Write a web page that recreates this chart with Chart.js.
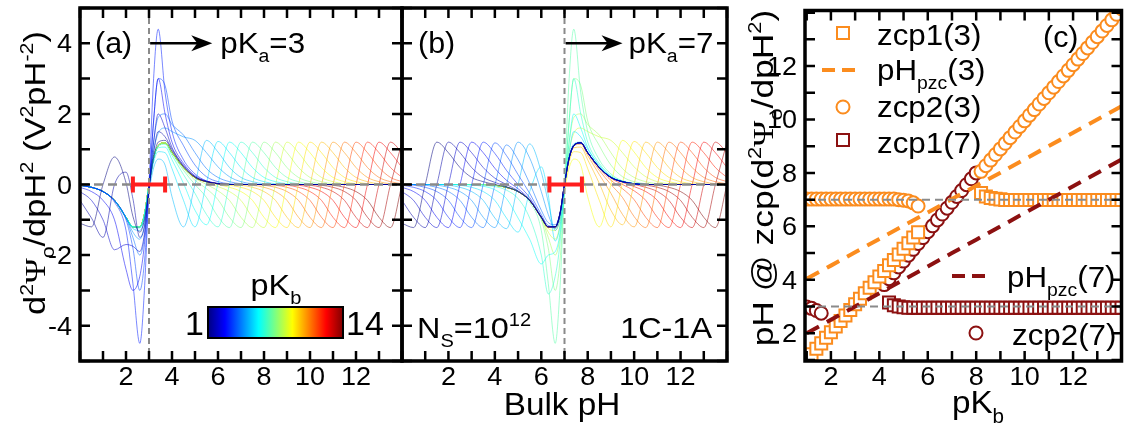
<!DOCTYPE html>
<html>
<head>
<meta charset="utf-8">
<script src="https://cdn.jsdelivr.net/npm/chart.js@4.4.1/dist/chart.umd.min.js"></script>
<style>
  html, body { margin: 0; padding: 0; background: #fff; overflow: hidden; }
  #wrap { position: relative; width: 1128px; height: 426px; overflow: hidden; }
  canvas { position: absolute; left: 0; top: 0; }
</style>
</head>
<body>
<div id="wrap">
  <canvas id="ca" width="1132" height="426"></canvas>
  <canvas id="cb" width="1132" height="426"></canvas>
  <canvas id="cc" width="1132" height="426"></canvas>
</div>
<script>
// ---- panels (a) and (b): d2Psi/dpH2 vs bulk pH, one curve per pKb ----
const pKbCurves = [1,1.5,2,2.5,3,3.5,4,4.5,5,5.5,6,6.5,7,7.5,8,8.5,9,9.5,10,10.5,11,11.5,12,12.5,13,13.5,14];

const pHgridA = [0,0.5,1,1.5,2,2.3,2.6,2.8,3,3.2,3.4,3.7,4,4.5,5,5.5,6,6.5,7,7.5,8,8.5,9,9.5,10,10.5,11,11.5,12,12.5,13,13.5,14];
const pHgridB = [0,0.5,1,1.5,2,2.5,3,3.5,4,4.5,5,5.5,6,6.3,6.6,6.8,7,7.2,7.4,7.7,8,8.5,9,9.5,10,10.5,11,11.5,12,12.5,13,13.5,14];

// pKa = 3
const curvesA = [
  [-1.1,-1.2,0,0.78,0.05,-0.9,-1.35,-1.0,-0.1,0.75,1.2,1.25,0.95,0.5,0.2,0.08,0.02,0,0,0,0,0,0,0,0,0,0,0,0,0,0,0,0],
  [-0.45,-0.95,-1.5,0,0.35,-0.4,-1.5,-1.2,-0.1,0.9,1.5,1.35,1.0,0.52,0.22,0.08,0.02,0,0,0,0,0,0,0,0,0,0,0,0,0,0,0,0],
  [-0.2,-0.45,-1.0,-1.85,-1.7,-1.75,-1.9,-1.4,-0.1,1.2,2.0,1.6,1.05,0.55,0.22,0.08,0.02,0,0,0,0,0,0,0,0,0,0,0,0,0,0,0,0],
  [-0.08,-0.2,-0.45,-1.0,-2.4,-3.0,-2.6,-1.7,-0.1,1.8,3.0,2.0,1.2,0.6,0.25,0.1,0.03,0,0,0,0,0,0,0,0,0,0,0,0,0,0,0,0],
  [-0.03,-0.08,-0.2,-0.5,-1.3,-2.8,-4.5,-3.0,0,3.0,4.4,2.6,1.5,0.7,0.3,0.1,0.03,0,0,0,0,0,0,0,0,0,0,0,0,0,0,0,0],
  [-0.02,-0.08,-0.2,-0.45,-1.0,-1.8,-3.0,-2.2,-0.2,1.8,3.0,2.8,1.8,1.1,0.55,0.22,0.08,0.02,0,0,0,0,0,0,0,0,0,0,0,0,0,0,0],
  [-0.02,-0.08,-0.2,-0.45,-0.95,-1.5,-2.0,-1.5,-0.1,1.2,1.9,2.0,1.7,1.4,0.9,0.45,0.2,0.08,0.02,0,0,0,0,0,0,0,0,0,0,0,0,0,0],
  [-0.02,-0.08,-0.2,-0.45,-0.93,-1.35,-1.55,-1.15,-0.05,0.95,1.45,1.6,1.5,1.35,1.25,0.9,0.5,0.22,0.08,0.02,0,0,0,0,0,0,0,0,0,0,0,0,0],
  [-0.02,-0.08,-0.2,-0.45,-0.95,-1.25,-1.3,-1.0,-0.2,0.47,0.72,0.55,-0.35,-1.2,0,1.25,0.92,0.48,0.2,0.08,0.02,0,0,0,0,0,0,0,0,0,0,0,0],
  [-0.02,-0.08,-0.2,-0.45,-0.93,-1.2,-1.23,-0.9,-0.08,0.63,0.93,0.9,0.45,-0.45,-1.2,0.05,1.22,0.9,0.48,0.2,0.08,0.02,0,0,0,0,0,0,0,0,0,0,0],
  [-0.02,-0.08,-0.2,-0.45,-0.93,-1.2,-1.2,-0.85,-0.02,0.71,1.04,1.06,0.7,0.03,-0.73,-1.14,0.02,1.2,0.9,0.48,0.2,0.08,0.02,0,0,0,0,0,0,0,0,0,0],
  [-0.02,-0.08,-0.2,-0.45,-0.93,-1.2,-1.2,-0.85,0,0.74,1.09,1.14,0.82,0.28,-0.25,-0.85,-1.2,0,1.2,0.9,0.48,0.2,0.08,0.02,0,0,0,0,0,0,0,0,0],
  [-0.02,-0.08,-0.2,-0.45,-0.93,-1.2,-1.2,-0.85,0,0.75,1.1,1.18,0.88,0.4,0,-0.37,-0.91,-1.22,0,1.2,0.9,0.48,0.2,0.08,0.02,0,0,0,0,0,0,0,0],
  [-0.02,-0.08,-0.2,-0.45,-0.93,-1.2,-1.2,-0.85,0,0.75,1.1,1.18,0.9,0.46,0.12,-0.12,-0.43,-0.93,-1.22,0,1.2,0.9,0.48,0.2,0.08,0.02,0,0,0,0,0,0,0],
  [-0.02,-0.08,-0.2,-0.45,-0.93,-1.2,-1.2,-0.85,0,0.75,1.1,1.18,0.9,0.48,0.18,0,-0.18,-0.45,-0.93,-1.22,0,1.2,0.9,0.48,0.2,0.08,0.02,0,0,0,0,0,0],
  [-0.02,-0.08,-0.2,-0.45,-0.93,-1.2,-1.2,-0.85,0,0.75,1.1,1.18,0.9,0.48,0.2,0.06,-0.06,-0.2,-0.45,-0.93,-1.22,0,1.2,0.9,0.48,0.2,0.08,0.02,0,0,0,0,0],
  [-0.02,-0.08,-0.2,-0.45,-0.93,-1.2,-1.2,-0.85,0,0.75,1.1,1.18,0.9,0.48,0.2,0.08,0,-0.08,-0.2,-0.45,-0.93,-1.22,0,1.2,0.9,0.48,0.2,0.08,0.02,0,0,0,0],
  [-0.02,-0.08,-0.2,-0.45,-0.93,-1.2,-1.2,-0.85,0,0.75,1.1,1.18,0.9,0.48,0.2,0.08,0.02,-0.02,-0.08,-0.2,-0.45,-0.93,-1.22,0,1.2,0.9,0.48,0.2,0.08,0.02,0,0,0],
  [-0.02,-0.08,-0.2,-0.45,-0.93,-1.2,-1.2,-0.85,0,0.75,1.1,1.18,0.9,0.48,0.2,0.08,0.02,0,-0.02,-0.08,-0.2,-0.45,-0.93,-1.22,0,1.2,0.9,0.48,0.2,0.08,0.02,0,0],
  [-0.02,-0.08,-0.2,-0.45,-0.93,-1.2,-1.2,-0.85,0,0.75,1.1,1.18,0.9,0.48,0.2,0.08,0.02,0,0,-0.02,-0.08,-0.2,-0.45,-0.93,-1.22,0,1.2,0.9,0.48,0.2,0.08,0.02,0],
  [-0.02,-0.08,-0.2,-0.45,-0.93,-1.2,-1.2,-0.85,0,0.75,1.1,1.18,0.9,0.48,0.2,0.08,0.02,0,0,0,-0.02,-0.08,-0.2,-0.45,-0.93,-1.22,0,1.2,0.9,0.48,0.2,0.08,0.02],
  [-0.02,-0.08,-0.2,-0.45,-0.93,-1.2,-1.2,-0.85,0,0.75,1.1,1.18,0.9,0.48,0.2,0.08,0.02,0,0,0,0,-0.02,-0.08,-0.2,-0.45,-0.93,-1.22,0,1.2,0.9,0.48,0.2,0.08],
  [-0.02,-0.08,-0.2,-0.45,-0.93,-1.2,-1.2,-0.85,0,0.75,1.1,1.18,0.9,0.48,0.2,0.08,0.02,0,0,0,0,0,-0.02,-0.08,-0.2,-0.45,-0.93,-1.22,0,1.2,0.9,0.48,0.2],
  [-0.02,-0.08,-0.2,-0.45,-0.93,-1.2,-1.2,-0.85,0,0.75,1.1,1.18,0.9,0.48,0.2,0.08,0.02,0,0,0,0,0,0,-0.02,-0.08,-0.2,-0.45,-0.93,-1.22,0,1.2,0.9,0.48],
  [-0.02,-0.08,-0.2,-0.45,-0.93,-1.2,-1.2,-0.85,0,0.75,1.1,1.18,0.9,0.48,0.2,0.08,0.02,0,0,0,0,0,0,0,-0.02,-0.08,-0.2,-0.45,-0.93,-1.22,0,1.2,0.9],
  [-0.02,-0.08,-0.2,-0.45,-0.93,-1.2,-1.2,-0.85,0,0.75,1.1,1.18,0.9,0.48,0.2,0.08,0.02,0,0,0,0,0,0,0,0,-0.02,-0.08,-0.2,-0.45,-0.93,-1.22,0,1.2],
  [-0.02,-0.08,-0.2,-0.45,-0.93,-1.2,-1.2,-0.85,0,0.75,1.1,1.18,0.9,0.48,0.2,0.08,0.02,0,0,0,0,0,0,0,0,0,-0.02,-0.08,-0.2,-0.45,-0.93,-1.22,0]
];

// pKa = 7
const curvesB = [
  [-1.1,-1.22,0,1.2,0.9,0.48,0.2,0.08,0,-0.08,-0.2,-0.45,-0.93,-1.2,-1.2,-0.85,0,0.75,1.1,1.18,0.9,0.48,0.2,0.08,0.02,0,0,0,0,0,0,0,0],
  [-0.45,-0.93,-1.22,0,1.2,0.9,0.48,0.2,0.06,-0.06,-0.2,-0.45,-0.93,-1.2,-1.2,-0.85,0,0.75,1.1,1.18,0.9,0.48,0.2,0.08,0.02,0,0,0,0,0,0,0,0],
  [-0.2,-0.45,-0.93,-1.22,0,1.2,0.9,0.48,0.18,0,-0.18,-0.45,-0.93,-1.2,-1.2,-0.85,0,0.75,1.1,1.18,0.9,0.48,0.2,0.08,0.02,0,0,0,0,0,0,0,0],
  [-0.08,-0.2,-0.45,-0.93,-1.22,0,1.2,0.9,0.46,0.12,-0.12,-0.43,-0.93,-1.2,-1.2,-0.85,0,0.75,1.1,1.18,0.9,0.48,0.2,0.08,0.02,0,0,0,0,0,0,0,0],
  [-0.02,-0.08,-0.2,-0.45,-0.93,-1.22,0,1.2,0.88,0.4,0,-0.37,-0.91,-1.19,-1.2,-0.85,0,0.75,1.1,1.18,0.9,0.48,0.2,0.08,0.02,0,0,0,0,0,0,0,0],
  [0,-0.02,-0.08,-0.2,-0.45,-0.93,-1.22,0,1.18,0.82,0.28,-0.25,-0.85,-1.16,-1.19,-0.85,0,0.75,1.1,1.18,0.9,0.48,0.2,0.08,0.02,0,0,0,0,0,0,0,0],
  [0,0,-0.02,-0.08,-0.2,-0.45,-0.93,-1.22,-0.02,1.12,0.7,0.03,-0.73,-1.08,-1.14,-0.81,0.02,0.75,1.1,1.18,0.9,0.48,0.2,0.08,0.02,0,0,0,0,0,0,0,0],
  [0,0,0,-0.02,-0.08,-0.2,-0.45,-0.93,-1.22,0,1.2,0.75,-0.2,-0.85,-1.25,-0.9,0,0.75,1.1,1.18,0.9,0.48,0.2,0.08,0.02,0,0,0,0,0,0,0,0],
  [0,0,0,0,-0.02,-0.08,-0.2,-0.45,-0.95,-1.25,0,1.15,0.35,-0.5,-1.3,-1.0,-0.05,0.8,1.15,1.2,0.92,0.48,0.2,0.08,0.02,0,0,0,0,0,0,0,0],
  [0,0,0,0,0,-0.02,-0.08,-0.2,-0.45,-0.95,-1.35,-0.2,0.5,-0.3,-1.6,-1.2,-0.1,0.9,1.5,1.35,1.0,0.52,0.22,0.08,0.02,0,0,0,0,0,0,0,0],
  [0,0,0,0,0,0,-0.02,-0.05,-0.15,-0.4,-0.95,-1.55,-2.25,-2.0,-1.9,-1.4,-0.1,1.2,2.0,1.6,1.05,0.55,0.22,0.08,0.02,0,0,0,0,0,0,0,0],
  [0,0,0,0,0,0,0,-0.02,-0.06,-0.16,-0.4,-0.95,-2.0,-3.1,-2.6,-1.7,-0.1,1.8,3.0,2.0,1.2,0.6,0.25,0.1,0.03,0,0,0,0,0,0,0,0],
  [0,0,0,0,0,0,0,0,-0.03,-0.08,-0.2,-0.5,-1.3,-2.8,-4.5,-3.0,0,3.0,4.4,2.6,1.5,0.7,0.3,0.1,0.03,0,0,0,0,0,0,0,0],
  [0,0,0,0,0,0,0,0,-0.02,-0.08,-0.2,-0.45,-1.0,-1.8,-3.0,-2.2,-0.2,1.8,3.0,2.8,1.8,1.1,0.55,0.22,0.08,0.02,0,0,0,0,0,0,0],
  [0,0,0,0,0,0,0,0,-0.02,-0.08,-0.2,-0.45,-0.95,-1.5,-2.0,-1.5,-0.1,1.2,1.9,2.0,1.7,1.4,0.9,0.45,0.2,0.08,0.02,0,0,0,0,0,0],
  [0,0,0,0,0,0,0,0,-0.02,-0.08,-0.2,-0.45,-0.93,-1.35,-1.55,-1.15,-0.05,0.95,1.45,1.6,1.5,1.35,1.25,0.9,0.5,0.22,0.08,0.02,0,0,0,0,0],
  [0,0,0,0,0,0,0,0,-0.02,-0.08,-0.2,-0.45,-0.95,-1.25,-1.3,-1.0,-0.2,0.47,0.72,0.55,-0.35,-1.2,0,1.25,0.92,0.48,0.2,0.08,0.02,0,0,0,0],
  [0,0,0,0,0,0,0,0,-0.02,-0.08,-0.2,-0.45,-0.93,-1.2,-1.23,-0.9,-0.08,0.63,0.93,0.9,0.45,-0.45,-1.2,0.05,1.22,0.9,0.48,0.2,0.08,0.02,0,0,0],
  [0,0,0,0,0,0,0,0,-0.02,-0.08,-0.2,-0.45,-0.93,-1.2,-1.2,-0.85,-0.02,0.71,1.04,1.06,0.7,0.03,-0.73,-1.14,0.02,1.2,0.9,0.48,0.2,0.08,0.02,0,0],
  [0,0,0,0,0,0,0,0,-0.02,-0.08,-0.2,-0.45,-0.93,-1.2,-1.2,-0.85,0,0.74,1.09,1.14,0.82,0.28,-0.25,-0.85,-1.2,0,1.2,0.9,0.48,0.2,0.08,0.02,0],
  [0,0,0,0,0,0,0,0,-0.02,-0.08,-0.2,-0.45,-0.93,-1.2,-1.2,-0.85,0,0.75,1.1,1.18,0.88,0.4,0,-0.37,-0.91,-1.22,0,1.2,0.9,0.48,0.2,0.08,0.02],
  [0,0,0,0,0,0,0,0,-0.02,-0.08,-0.2,-0.45,-0.93,-1.2,-1.2,-0.85,0,0.75,1.1,1.18,0.9,0.46,0.12,-0.12,-0.43,-0.93,-1.22,0,1.2,0.9,0.48,0.2,0.08],
  [0,0,0,0,0,0,0,0,-0.02,-0.08,-0.2,-0.45,-0.93,-1.2,-1.2,-0.85,0,0.75,1.1,1.18,0.9,0.48,0.18,0,-0.18,-0.45,-0.93,-1.22,0,1.2,0.9,0.48,0.2],
  [0,0,0,0,0,0,0,0,-0.02,-0.08,-0.2,-0.45,-0.93,-1.2,-1.2,-0.85,0,0.75,1.1,1.18,0.9,0.48,0.2,0.06,-0.06,-0.2,-0.45,-0.93,-1.22,0,1.2,0.9,0.48],
  [0,0,0,0,0,0,0,0,-0.02,-0.08,-0.2,-0.45,-0.93,-1.2,-1.2,-0.85,0,0.75,1.1,1.18,0.9,0.48,0.2,0.08,0,-0.08,-0.2,-0.45,-0.93,-1.22,0,1.2,0.9],
  [0,0,0,0,0,0,0,0,-0.02,-0.08,-0.2,-0.45,-0.93,-1.2,-1.2,-0.85,0,0.75,1.1,1.18,0.9,0.48,0.2,0.08,0.02,-0.02,-0.08,-0.2,-0.45,-0.93,-1.22,0,1.2],
  [0,0,0,0,0,0,0,0,-0.02,-0.08,-0.2,-0.45,-0.93,-1.2,-1.2,-0.85,0,0.75,1.1,1.18,0.9,0.48,0.2,0.08,0.02,0,-0.02,-0.08,-0.2,-0.45,-0.93,-1.22,0]
];

const errA = [2.3, 3.7];
const errB = [6.35, 7.75];

// ---- panel (c): pH at the zero crossings vs pKb ----
const pKbC = [1,1.2,1.4,1.6,1.8,2,2.2,2.4,2.6,2.8,3,3.2,3.4,3.6,3.8,4,4.2,4.4,4.6,4.8,5,5.2,5.4,5.6,5.8,6,6.2,6.4,6.6,6.8,7,7.2,7.4,7.6,7.8,8,8.2,8.4,8.6,8.8,9,9.2,9.4,9.6,9.8,10,10.2,10.4,10.6,10.8,11,11.2,11.4,11.6,11.8,12,12.2,12.4,12.6,12.8,13,13.2,13.4,13.6,13.8,14];
const zcp1_3 = [1.0,1.21,1.42,1.62,1.83,2.04,2.25,2.46,2.66,2.87,3.08,3.29,3.5,3.7,3.91,4.12,4.33,4.54,4.74,4.95,5.16,5.37,5.58,5.78,
  null,null,null,null,null,null,null,null,null,null,null,null,
  7.25,7.12,7.06,7.03,7.01,
  6.99,6.99,6.99,6.99,6.99,6.99,6.99,6.99,6.99,6.99,6.99,6.99,6.99,6.99,6.99,6.99,6.99,6.99,6.99,6.99,6.99,6.99,6.99,6.99,6.99];
const zcp2_3 = [7.02,7.02,7.02,7.02,7.02,7.02,7.02,7.02,7.02,7.02,7.02,7.02,7.02,7.02,7.02,7.02,7.02,7.02,7.02,
  7.0,6.98,6.95,6.88,6.76,
  null,null,null,null,null,null,null,null,null,null,null,null,
  8.06,8.27,8.48,8.69,8.9,9.11,9.32,9.53,9.74,9.95,10.16,10.37,10.58,10.79,11.0,11.21,11.42,11.63,11.84,12.05,12.26,12.47,12.68,12.89,13.1,13.31,13.52,13.73,13.94,14.15];
const zcp1_7 = [null,null,null,null,null,null,null,null,null,null,null,null,null,null,null,null,null,
  3.15,3.05,3.0,2.97,
  2.95,2.95,2.95,2.95,2.95,2.95,2.95,2.95,2.95,2.95,2.95,2.95,2.95,2.95,2.95,2.95,2.95,2.95,2.95,2.95,2.95,2.95,2.95,2.95,2.95,
  2.95,2.95,2.95,2.95,2.95,2.95,2.95,2.95,2.95,2.95,2.95,2.95,2.95,2.95,2.95,2.95,2.95,2.95,2.95,2.95];
const zcp2_7 = [2.98,2.93,2.85,2.75,
  null,null,null,null,null,null,null,null,null,null,null,null,
  3.82,4.04,4.26,4.48,4.7,4.92,5.14,5.36,5.58,5.8,6.02,6.24,6.46,6.68,6.9,7.12,7.34,7.56,7.78,8.0,
  null,null,null,null,null,null,null,null,null,null,null,null,null,null,null,null,null,null,null,null,null,null,null,null,null,null,null,null,null,null];
const pKbLine = [1,2,3,4,5,6,7,8,9,10,11,12,13,14];
const pzc3 = [4.04,4.53,5.03,5.53,6.03,6.52,7.02,7.52,8.01,8.51,9.01,9.5,10.0,10.5];
const pzc7 = [2.0,2.5,3.0,3.5,4.0,4.5,5.0,5.5,6.0,6.5,7.0,7.5,8.0,8.5];

const evenLabels = [2,4,6,8,10,12];

// ---- helpers ----
const SANS = '"Liberation Sans", Arial, sans-serif';
const SERIF = '"Liberation Serif", "Times New Roman", serif';
const ORANGE = '#fb8c1e', DARKRED = '#8c1111', GREY = '#8a8a8a';

function jet(t, a) {
  const c = v => Math.max(0, Math.min(1, v));
  const r = c(1.5 - Math.abs(4 * t - 3)), g = c(1.5 - Math.abs(4 * t - 2)), b = c(1.5 - Math.abs(4 * t - 1));
  return `rgba(${Math.round(r * 255)},${Math.round(g * 255)},${Math.round(b * 255)},${a})`;
}

// parts: [text, 0 normal | 1 sub | 2 sup, 'serif'?]
function txt(ctx, x, y, parts, size, align = 'left', rot = 0, sx = 1.08) {
  ctx.save();
  ctx.translate(x, y);
  if (rot) ctx.rotate(rot);
  ctx.scale(sx, 1);
  ctx.textAlign = 'left';
  ctx.textBaseline = 'alphabetic';
  ctx.fillStyle = '#000';
  const seg = parts.map(p => {
    const m = p[1] || 0, s = m ? size * 0.62 : size;
    const f = `${s}px ${p[2] === 'serif' ? SERIF : SANS}`;
    ctx.font = f;
    return { t: p[0], f, w: ctx.measureText(p[0]).width, dy: m === 1 ? size * 0.3 : m === 2 ? -size * 0.4 : 0 };
  });
  const w = seg.reduce((s, g) => s + g.w, 0);
  let cx = align === 'center' ? -w / 2 : align === 'right' ? -w : 0;
  for (const g of seg) { ctx.font = g.f; ctx.fillText(g.t, cx, g.dy); cx += g.w; }
  ctx.restore();
}

function frame(chart, xLab, yLab) {
  const { ctx, chartArea: a, scales: { x, y } } = chart;
  ctx.save();
  ctx.strokeStyle = '#000';
  ctx.lineWidth = 2.5;
  ctx.beginPath();
  for (let v = Math.ceil(x.min); v <= Math.floor(x.max); v++) {
    const px = x.getPixelForValue(v);
    ctx.moveTo(px, a.bottom); ctx.lineTo(px, a.bottom - 10);
    ctx.moveTo(px, a.top); ctx.lineTo(px, a.top + 10);
  }
  for (let v = Math.ceil(y.min); v <= Math.floor(y.max); v++) {
    const py = y.getPixelForValue(v);
    ctx.moveTo(a.left, py); ctx.lineTo(a.left + 10, py);
    ctx.moveTo(a.right, py); ctx.lineTo(a.right - 10, py);
  }
  ctx.stroke();
  ctx.lineWidth = 3.5;
  ctx.strokeRect(a.left, a.top, a.right - a.left, a.bottom - a.top);
  ctx.restore();
  xLab.forEach(v => txt(ctx, x.getPixelForValue(v), a.bottom + 24, [[String(v)]], 25, 'center'));
  yLab.forEach(v => txt(ctx, a.left - 8, y.getPixelForValue(v) + 9, [[String(v)]], 25, 'right'));
}

function dashed(ctx, x0, y0, x1, y1, color, width, dash) {
  ctx.save();
  ctx.strokeStyle = color; ctx.lineWidth = width; ctx.setLineDash(dash);
  ctx.beginPath(); ctx.moveTo(x0, y0); ctx.lineTo(x1, y1); ctx.stroke();
  ctx.restore();
}

function arrow(ctx, x0, x1, y) {
  ctx.save();
  ctx.strokeStyle = '#000'; ctx.fillStyle = '#000'; ctx.lineWidth = 2.5;
  ctx.beginPath(); ctx.moveTo(x0, y); ctx.lineTo(x1 - 12, y); ctx.stroke();
  ctx.beginPath();
  ctx.moveTo(x1, y); ctx.lineTo(x1 - 21, y - 8); ctx.lineTo(x1 - 15, y); ctx.lineTo(x1 - 21, y + 8);
  ctx.closePath(); ctx.fill();
  ctx.restore();
}

function errBar(ctx, x0, x1, y) {
  ctx.save();
  ctx.strokeStyle = '#ff1e1e'; ctx.lineWidth = 4;
  ctx.beginPath();
  ctx.moveTo(x0, y); ctx.lineTo(x1, y);
  ctx.moveTo(x0, y - 8); ctx.lineTo(x0, y + 8);
  ctx.moveTo(x1, y - 8); ctx.lineTo(x1, y + 8);
  ctx.stroke();
  ctx.restore();
}

function curveData(grid, rows) {
  return rows.map((r, i) => ({
    data: r.map((v, j) => ({ x: grid[j], y: v })),
    borderColor: jet((pKbCurves[i] - 1) / 13, 0.7),
    borderWidth: 0.75,
    pointRadius: 0,
    fill: false,
    cubicInterpolationMode: 'monotone'
  }));
}

function curveOptions(padLeft, padRight, yWidth) {
  return {
    responsive: false, animation: false, events: [],
    layout: { padding: { left: padLeft, right: padRight, top: 8, bottom: 0 } },
    plugins: { legend: { display: false }, tooltip: { enabled: false } },
    scales: {
      x: { type: 'linear', min: 0, max: 14, grid: { display: false }, border: { display: false },
           ticks: { display: false }, afterFit(s) { s.height = 65; } },
      y: { type: 'linear', min: -5, max: 5, grid: { display: false }, border: { display: false },
           ticks: { display: false }, afterFit(s) { s.width = yWidth; } }
    }
  };
}

function refLines(chart, pKa, err) {
  const { ctx, chartArea: a, scales: { x, y } } = chart;
  dashed(ctx, x.getPixelForValue(pKa), a.top, x.getPixelForValue(pKa), a.bottom, GREY, 2, [6, 4]);
  dashed(ctx, a.left, y.getPixelForValue(0), a.right, y.getPixelForValue(0), GREY, 2.5, [9, 5]);
  errBar(ctx, x.getPixelForValue(err[0]), x.getPixelForValue(err[1]), y.getPixelForValue(0));
}

// ---- panel (a) ----
new Chart(document.getElementById('ca'), {
  type: 'line',
  data: { datasets: curveData(pHgridA, curvesA) },
  options: curveOptions(0, 730, 80),
  plugins: [{
    id: 'decoA',
    afterDatasetsDraw(chart) { refLines(chart, 3, errA); },
    afterDraw(chart) {
      const { ctx, scales: { x, y } } = chart;
      frame(chart, evenLabels, [4, 2, 0, -2, -4]);
      txt(ctx, 95, 53, [['(a)']], 29, 'left', 0, 1.05);
      arrow(ctx, x.getPixelForValue(3.05), x.getPixelForValue(5.75), y.getPixelForValue(4));
      txt(ctx, x.getPixelForValue(5.75) + 8, 53, [['pK'], ['a', 1], ['=3']], 29);
      // colour bar for pKb
      const g = ctx.createLinearGradient(208, 0, 343, 0);
      g.addColorStop(0, jet(0, 1)); g.addColorStop(0.125, jet(0.125, 1)); g.addColorStop(0.375, jet(0.375, 1));
      g.addColorStop(0.625, jet(0.625, 1)); g.addColorStop(0.875, jet(0.875, 1)); g.addColorStop(1, jet(1, 1));
      ctx.save();
      ctx.fillStyle = g; ctx.fillRect(208, 307, 135, 31);
      ctx.strokeStyle = '#000'; ctx.lineWidth = 2; ctx.strokeRect(208, 307, 135, 31);
      ctx.restore();
      txt(ctx, 204, 335, [['1']], 34, 'right', 0, 1.0);
      txt(ctx, 346, 335, [['14']], 34, 'left', 0, 1.0);
      txt(ctx, 276, 295, [['pK'], ['b', 1]], 30, 'center');
      // y title
      txt(ctx, 45, 173, [['d'], ['2', 2], ['\u03A8', 0, 'serif'], ['o', 1], ['/dpH'], ['2', 2], [' (V'], ['2', 2], ['pH'], ['-2', 2], [')']],
          30, 'center', -Math.PI / 2, 1.15);
    }
  }]
});

// ---- panel (b) ----
new Chart(document.getElementById('cb'), {
  type: 'line',
  data: { datasets: curveData(pHgridB, curvesB) },
  options: curveOptions(402, 405, 0),
  plugins: [{
    id: 'decoB',
    afterDatasetsDraw(chart) { refLines(chart, 7, errB); },
    afterDraw(chart) {
      const { ctx, scales: { x, y } } = chart;
      frame(chart, evenLabels, []);
      txt(ctx, 418, 53, [['(b)']], 29, 'left', 0, 1.05);
      arrow(ctx, x.getPixelForValue(7.05), x.getPixelForValue(9.5), y.getPixelForValue(4));
      txt(ctx, x.getPixelForValue(9.5) + 6, 53, [['pK'], ['a', 1], ['=7']], 29);
      txt(ctx, 417, 338, [['N'], ['S', 1], ['=10'], ['12', 2]], 30);
      txt(ctx, 712, 338, [['1C-1A']], 30, 'right');
      txt(ctx, 562, 415, [['Bulk pH']], 32, 'center', 0, 1.04);
    }
  }]
});

// ---- panel (c) ----
const pts = arr => pKbC.map((x, i) => ({ x, y: arr[i] })).filter(p => p.y !== null);
const linePts = arr => pKbLine.map((x, i) => ({ x, y: arr[i] }));
const markerSet = (arr, style, color, r) => ({
  data: pts(arr), showLine: false, pointStyle: style, pointRadius: r,
  pointBorderWidth: 2, pointBorderColor: color, pointBackgroundColor: '#fff'
});
const dashSet = (arr, color) => ({
  data: linePts(arr), showLine: true, borderColor: color, borderWidth: 4,
  borderDash: [14, 9], pointRadius: 0, fill: false
});

new Chart(document.getElementById('cc'), {
  type: 'scatter',
  data: {
    datasets: [
      dashSet(pzc3, ORANGE),
      dashSet(pzc7, DARKRED),
      markerSet(zcp2_3, 'circle', ORANGE, 6.5),
      markerSet(zcp1_3, 'rect', ORANGE, 8.5),
      markerSet(zcp1_7, 'rect', DARKRED, 8.5),
      markerSet(zcp2_7, 'circle', DARKRED, 6.5)
    ]
  },
  options: {
    responsive: false, animation: false, events: [],
    layout: { padding: { left: 0, right: 3, top: 8, bottom: 0 } },
    plugins: { legend: { display: false }, tooltip: { enabled: false } },
    scales: {
      x: { type: 'linear', min: 0.93, max: 14, grid: { display: false }, border: { display: false },
           ticks: { display: false }, afterFit(s) { s.height = 65; } },
      y: { type: 'linear', min: 0.96, max: 14.08, grid: { display: false }, border: { display: false },
           ticks: { display: false }, afterFit(s) { s.width = 805; } }
    }
  },
  plugins: [{
    id: 'decoC',
    afterDatasetsDraw(chart) {
      const { ctx, chartArea: a, scales: { y } } = chart;
      dashed(ctx, a.left, y.getPixelForValue(7), a.right, y.getPixelForValue(7), GREY, 2, [8, 5]);
      dashed(ctx, a.left, y.getPixelForValue(3), a.right, y.getPixelForValue(3), GREY, 2, [8, 5]);
    },
    afterDraw(chart) {
      const { ctx } = chart;
      frame(chart, evenLabels, evenLabels);
      const sq = (x, y, c) => {
        ctx.save(); ctx.fillStyle = '#fff'; ctx.strokeStyle = c; ctx.lineWidth = 2;
        ctx.fillRect(x - 6, y - 6, 12, 12); ctx.strokeRect(x - 6, y - 6, 12, 12); ctx.restore();
      };
      const ci = (x, y, c) => {
        ctx.save(); ctx.fillStyle = '#fff'; ctx.strokeStyle = c; ctx.lineWidth = 2;
        ctx.beginPath(); ctx.arc(x, y, 6.5, 0, 2 * Math.PI); ctx.fill(); ctx.stroke(); ctx.restore();
      };
      const seg = (x0, x1, y, c) => dashed(ctx, x0, y, x1, y, c, 4, [13, 7]);
      sq(843, 33, ORANGE);   txt(ctx, 877, 45, [['zcp1(3)']], 29);
      seg(822, 856, 70, ORANGE); txt(ctx, 877, 80, [['pH'], ['pzc', 1], ['(3)']], 29);
      ci(843, 107, ORANGE);  txt(ctx, 877, 117, [['zcp2(3)']], 29);
      sq(843, 140, DARKRED); txt(ctx, 877, 153, [['zcp1(7)']], 29);
      seg(952, 986, 276, DARKRED); txt(ctx, 1007, 287, [['pH'], ['pzc', 1], ['(7)']], 29);
      ci(976, 333, DARKRED); txt(ctx, 1012, 345, [['zcp2(7)']], 29);
      txt(ctx, 1043, 47, [['(c)']], 29, 'left', 0, 1.05);
      txt(ctx, 978, 413, [['pK'], ['b', 1]], 32, 'center', 0, 1.04);
      txt(ctx, 773, 178, [['pH @ zcp(d'], ['2', 2], ['\u03A8', 0, 'serif'], ['o', 1], ['/dpH'], ['2', 2], [')']],
          30, 'center', -Math.PI / 2, 1.18);
    }
  }]
});
</script>
</body>
</html>
